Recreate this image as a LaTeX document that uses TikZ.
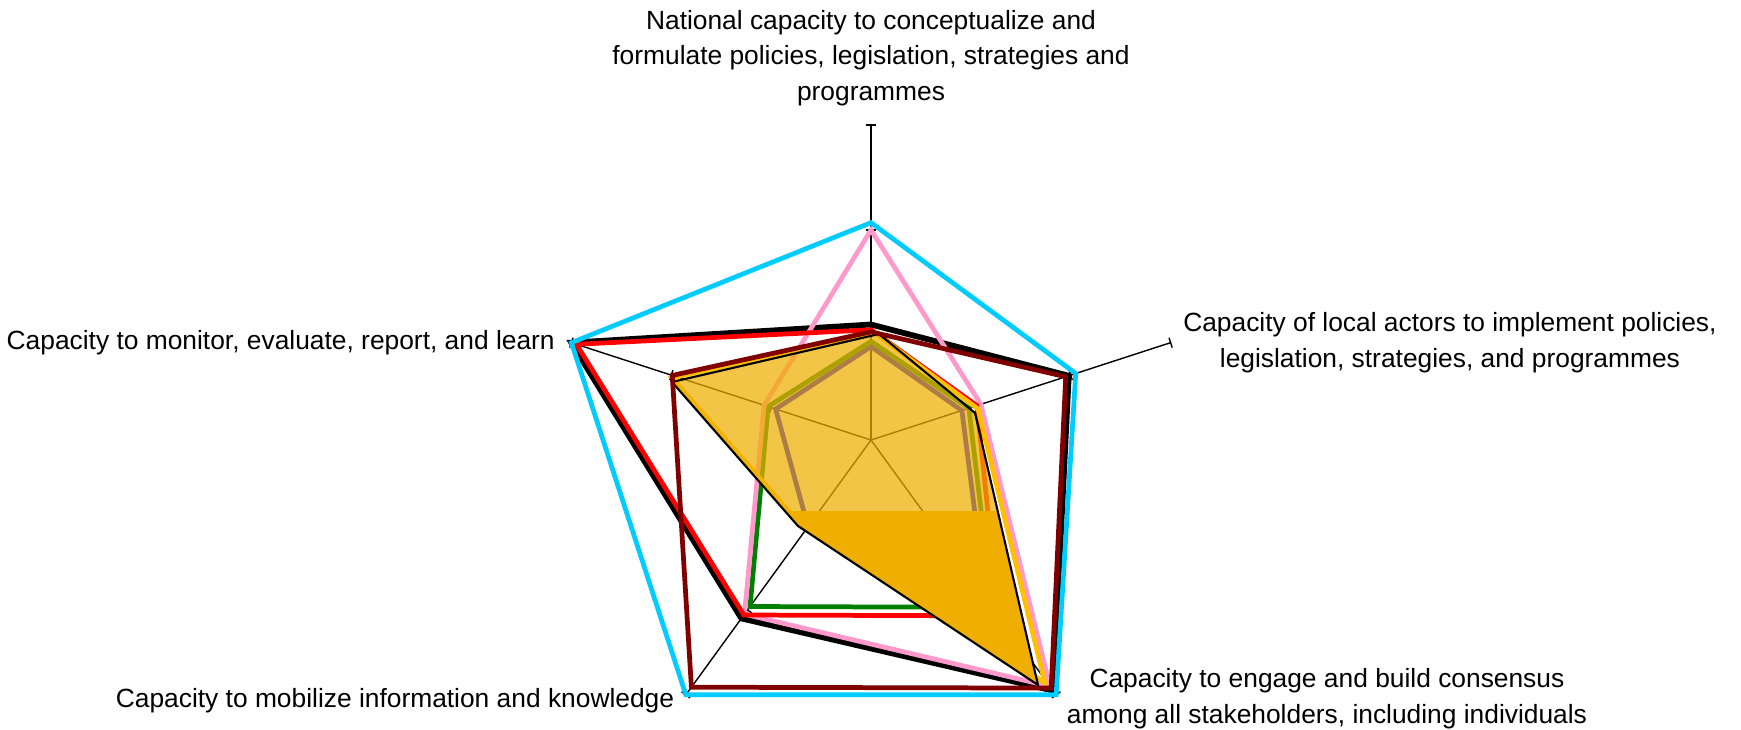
\documentclass[tikz,border=0pt]{standalone}
\usepackage{fontspec}
\setmainfont{Liberation Sans}
\usepackage{tikz}
\usetikzlibrary{positioning}
\definecolor{skyline}{RGB}{0,204,255}
\definecolor{rosepink}{RGB}{255,153,204}
\definecolor{brightred}{RGB}{255,0,0}
\definecolor{maroon}{RGB}{128,0,0}
\definecolor{leafgreen}{RGB}{0,128,0}
\definecolor{deepblue}{RGB}{0,0,255}
\definecolor{goldline}{RGB}{255,192,0}
\definecolor{areafill}{RGB}{239,174,0}
\tikzset{
node distance=0.1cm, % gap between a spoke end and its label
spoke/.style={black, line width=0.4pt}, % the five radar axes
serie/.style={line width=1.35pt, miter limit=4}, % one profile line
lbl/.style={align=center, inner sep=0pt, font=\fontsize{7.5}{10.2}\selectfont},
}
% outline of the filled profile (in cm, from the centre)
\newcommand\areashape{(0.08cm,1.06cm) -- (1.04cm,0.27cm) -- (1.67cm,-2.45cm) -- (-0.73cm,-0.86cm) -- (-1.99cm,0.58cm) -- cycle}

\begin{document}
\begin{tikzpicture}[x=1.05cm,y=1.05cm]
  \useasboundingbox (-8.71cm,-2.89cm) rectangle (8.70cm,4.40cm);

  % spokes, with a tick at every unit
  \foreach \a/\n in {90/1,18/2,-54/3,-126/4,162/5}{
    \draw[spoke] (0,0) -- (\a:3) coordinate (a\n);
    \foreach \r in {1,2,3}
      \draw[spoke] (\a:\r) ++({\a+90}:0.05) -- ++({\a-90}:0.1);
  }

  % profiles lying under the area
  \draw[serie, black, line width=1.65pt] (90:1.10) -- (18:1.98) -- (-54:2.95) -- (-126:2.10) -- (162:3) -- cycle;
  \draw[serie, deepblue] (90:0.89) -- (18:0.91) -- (-54:1.86) -- (-126:1.02) -- (162:0.955) -- cycle;
  \draw[serie, leafgreen] (90:0.94) -- (18:0.98) -- (-54:1.97) -- (-126:1.96) -- (162:1.03) -- cycle;
  \draw[serie, rosepink] (90:2.0) -- (18:1.10) -- (-54:2.90) -- (-126:2.05) -- (162:1.07) -- cycle;
  \draw[serie, brightred] (90:1.05) -- (18:1.06) -- (-54:2.07) -- (-126:2.06) -- (162:2.95) -- cycle;
  \draw[serie, goldline] (0.04cm,1.07cm) -- (1.07cm,0.31cm) -- (1.74cm,-2.43cm) -- (-0.72cm,-0.83cm) -- (-1.99cm,0.62cm) -- cycle;

  % filled profile, solid below the cut
  \fill[areafill, fill opacity=0.72] \areashape;
  \begin{scope}
    \clip (-3cm,-0.71cm) rectangle (3cm,-3cm);
    \fill[areafill] \areashape;
  \end{scope}
  \draw[black, line width=0.6pt] \areashape;

  % profiles on top
  \draw[serie, maroon] (90:1.03) -- (18:1.95) -- (-54:2.92) -- (-126:2.91) -- (162:1.99) -- cycle;
  \draw[serie, skyline] (90:2.07) -- (18:2.05) -- (-54:3) -- (-126:3) -- (162:3) -- cycle;

  % axis labels
  \node[lbl, above=0.18cm of a1] (l1) {National capacity to conceptualize and\\formulate policies, legislation, strategies and\\programmes};
  \node[lbl, right=0.12cm of a2] (l2) {Capacity of local actors to implement policies,\\legislation, strategies, and programmes};
  \node[lbl, right=0.1cm of a3, yshift=-0.04cm] (l3) {Capacity to engage and build consensus\\among all stakeholders, including individuals};
  \node[lbl, left=0.11cm of a4, yshift=-0.06cm] (l4) {Capacity to mobilize information and knowledge};
  \node[lbl, left=0.16cm of a5] (l5) {Capacity to monitor, evaluate, report, and learn};
\end{tikzpicture}
\end{document}
